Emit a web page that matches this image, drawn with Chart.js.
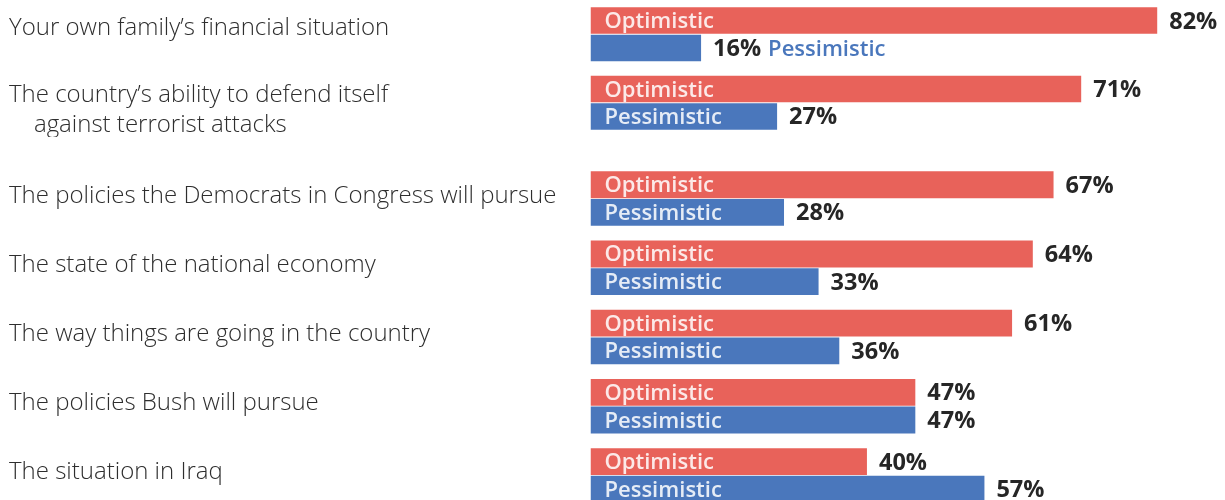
<!DOCTYPE html>
<html><head><meta charset="utf-8">
<script src="https://cdn.jsdelivr.net/npm/chart.js@4/dist/chart.umd.min.js"></script>
<style>
html,body{margin:0;padding:0;background:#fff;overflow:hidden;width:1225px;height:500px;position:relative;}
#top{position:absolute;left:0;top:0;width:1225px;height:137px;}
#bot{position:absolute;left:0;top:164px;width:1225px;height:346px;}
</style></head><body>
<div id="top"><canvas id="c1"></canvas></div>
<div id="bot"><canvas id="c2"></canvas></div>
<script>
// ---- data ----
const categories = [
  "Your own family\u2019s financial situation",
  ["The country\u2019s ability to defend itself", "    against terrorist attacks"],
  "The policies the Democrats in Congress will pursue",
  "The state of the national economy",
  "The way things are going in the country",
  "The policies Bush will pursue",
  "The situation in Iraq"
];
const optimistic  = [82, 71, 67, 64, 61, 47, 40];
const pessimistic = [16, 27, 28, 33, 36, 47, 57];
const seriesNames = ["Optimistic", "Pessimistic"];
const valueSuffix = "%";

// ---- style ----
const RED = "#E8625A";
const BLUE = "#4A77BC";
const FONT = "'Open Sans', 'Noto Sans', sans-serif";

// draws the category names on the left, aligned to the library's category scale
function categoryLabels(baseOffset) {
  return {
    id: "categoryLabels",
    afterDraw(chart) {
      const ctx = chart.ctx;
      const yScale = chart.scales.y;
      ctx.save();
      ctx.font = "300 24px " + FONT;
      ctx.fillStyle = "#2e2e2e";
      ctx.textAlign = "left";
      ctx.textBaseline = "alphabetic";
      chart.data.labels.forEach((lab, i) => {
        const lines = Array.isArray(lab) ? lab : [lab];
        const cy = yScale.getPixelForValue(i);
        const off = lines.length > 1 ? baseOffset - 1 : baseOffset;
        lines.forEach((ln, k) => ctx.fillText(ln, 9, cy + off + k * 30));
      });
      ctx.restore();
    }
  };
}

const barLabels = {
  id: "barLabels",
  afterDatasetsDraw(chart) {
    const ctx = chart.ctx;
    ctx.save();
    ctx.textBaseline = "alphabetic";
    ctx.textAlign = "left";
    chart.data.datasets.forEach((ds, di) => {
      const meta = chart.getDatasetMeta(di);
      meta.data.forEach((bar, i) => {
        const valTxt = ds.data[i] + valueSuffix;
        const name = seriesNames[di];
        ctx.font = "600 22px " + FONT;
        const nameW = ctx.measureText(name).width;
        const inside = (bar.x - bar.base) > nameW + 24;
        ctx.font = "700 23.5px " + FONT;
        ctx.fillStyle = "#262626";
        ctx.fillText(valTxt, bar.x + 12, bar.y + 8);
        const vw = ctx.measureText(valTxt).width;
        ctx.font = "600 22px " + FONT;
        if (inside) {
          ctx.fillStyle = "rgba(255,255,255,0.86)";
          ctx.fillText(name, bar.base + 14, bar.y + 7.5);
        } else {
          ctx.fillStyle = ds.backgroundColor;
          ctx.fillText(name, bar.x + 12 + vw + 7, bar.y + 8);
        }
      });
    });
    ctx.restore();
  }
};

function makeChart(id, from, to, labelOffset) {
  return new Chart(document.getElementById(id), {
    type: "bar",
    data: {
      labels: categories.slice(from, to),
      datasets: [
        { label: seriesNames[0], data: optimistic.slice(from, to), backgroundColor: RED,
          categoryPercentage: 0.8, barPercentage: 0.97 },
        { label: seriesNames[1], data: pessimistic.slice(from, to), backgroundColor: BLUE,
          categoryPercentage: 0.8, barPercentage: 0.97 }
      ]
    },
    options: {
      indexAxis: "y",
      responsive: true,
      maintainAspectRatio: false,
      animation: false,
      layout: { padding: { left: 590.5, right: 12.5, top: 0, bottom: 0 } },
      plugins: { legend: { display: false }, tooltip: { enabled: false } },
      scales: {
        x: { min: 0, max: 90, display: false },
        y: { display: false }
      }
    },
    plugins: [barLabels, categoryLabels(labelOffset)]
  });
}
makeChart("c1", 0, 2, 0.5);
makeChart("c2", 2, 7, 4);
</script>
</body></html>
